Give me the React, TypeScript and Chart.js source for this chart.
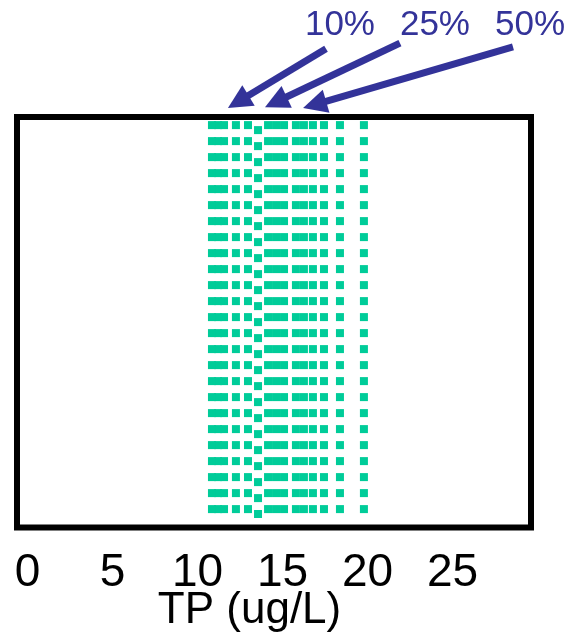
import React, { useEffect, useRef } from "react";
import { Chart, registerables } from "chart.js";

Chart.register(...registerables);

// ---- data ----
const X_TICKS = [0, 5, 10, 15, 20, 25];
const X_TITLE = "TP (ug/L)";
// positions (TP, ug/L) of the dashed vertical lines
const TP_LINES = [10.85, 11.21, 11.56, 12.26, 12.97, 13.56, 14.15, 14.62, 15.09, 15.79, 16.26, 16.79, 17.44, 18.38, 19.79];
const LINE_TOP = 99.0;
const LINE_BOTTOM = 2.3;
// percentile annotations
const ARROW_LABELS = ["10%", "25%", "50%"];
const ARROW_TIP_X = [11.79, 13.97, 16.21];
const ARROW_TIP_Y = [102.2, 102.4, 102.2];
const ARROW_TAIL_X = [17.56, 21.91, 28.56];
const ARROW_TAIL_Y = [116.6, 118.0, 117.1];
const LABEL_X = [18.38, 23.97, 29.56];
const LABEL_Y = 120.0;

// ---- style ----
const GREEN = "#00CC99";
const BLUE = "#333399";
const FONT = "'Liberation Sans', Arial, sans-serif";
const SHIFTED_LINE_INDEX = 5;

const framePlugin = {
  id: "frame",
  afterDatasetsDraw(chart: any) {
    const { ctx, chartArea: a } = chart;
    ctx.save();
    ctx.strokeStyle = "#000";
    ctx.lineWidth = 6;
    ctx.strokeRect(a.left, a.top, a.right - a.left, a.bottom - a.top);
    ctx.restore();
  },
};

const arrowPlugin = {
  id: "arrows",
  afterDraw(chart: any) {
    const { ctx, scales } = chart;
    const xs = scales.x;
    const ys = scales.y;
    ctx.save();
    ctx.fillStyle = BLUE;
    ctx.strokeStyle = BLUE;
    ARROW_LABELS.forEach((lab, i) => {
      const tx = xs.getPixelForValue(ARROW_TIP_X[i]);
      const ty = ys.getPixelForValue(ARROW_TIP_Y[i]);
      const sx = xs.getPixelForValue(ARROW_TAIL_X[i]);
      const sy = ys.getPixelForValue(ARROW_TAIL_Y[i]);
      const dx = tx - sx;
      const dy = ty - sy;
      const len = Math.hypot(dx, dy);
      const ux = dx / len;
      const uy = dy / len;
      const headLen = 24;
      const hw = 12;
      const bx = tx - ux * headLen;
      const by = ty - uy * headLen;
      ctx.lineWidth = 7;
      ctx.lineCap = "butt";
      ctx.beginPath();
      ctx.moveTo(sx, sy);
      ctx.lineTo(bx + ux * 2, by + uy * 2);
      ctx.stroke();
      ctx.beginPath();
      ctx.moveTo(tx, ty);
      ctx.lineTo(bx - uy * hw, by + ux * hw);
      ctx.lineTo(bx + uy * hw, by - ux * hw);
      ctx.closePath();
      ctx.fill();
      ctx.font = `35px ${FONT}`;
      ctx.textAlign = "center";
      ctx.textBaseline = "alphabetic";
      ctx.fillText(lab, xs.getPixelForValue(LABEL_X[i]), ys.getPixelForValue(LABEL_Y));
    });
    ctx.restore();
  },
};

export default function App() {
  const ref = useRef<HTMLCanvasElement | null>(null);

  useEffect(() => {
    if (!ref.current) return;
    const datasets = TP_LINES.map((v, i) => ({
      label: `TP ${v}`,
      data: [
        { x: v, y: LINE_TOP },
        { x: v, y: LINE_BOTTOM },
      ],
      borderColor: GREEN,
      backgroundColor: GREEN,
      borderWidth: 8,
      borderDash: [8, 8],
      borderDashOffset: i === SHIFTED_LINE_INDEX ? 11 : 0,
      pointRadius: 0,
      fill: false,
      tension: 0,
    }));
    const chart = new Chart(ref.current, {
      type: "line",
      data: { datasets },
      options: {
        animation: false,
        responsive: false,
        events: [],
        layout: { padding: { left: 17, right: 44, top: 117, bottom: 0 } },
        plugins: { legend: { display: false }, tooltip: { enabled: false } },
        scales: {
          x: {
            type: "linear",
            min: -0.62,
            max: 29.62,
            afterBuildTicks: (scale: any) => {
              scale.ticks = X_TICKS.map((v) => ({ value: v }));
            },
            afterFit: (scale: any) => {
              scale.paddingLeft = 0;
              scale.paddingRight = 0;
              scale.height = 105.5;
            },
            grid: { display: false, drawTicks: false },
            border: { display: false },
            ticks: {
              color: "#000",
              padding: 29.5,
              maxRotation: 0,
              autoSkip: false,
              font: { family: FONT, size: 46, lineHeight: 32 / 46 },
              callback: (v: any) => String(v),
            },
            title: {
              display: true,
              text: X_TITLE + "    ",
              color: "#000",
              padding: { top: 0, bottom: 0 },
              font: { family: FONT, size: 44, lineHeight: 1 },
            },
          },
          y: {
            type: "linear",
            display: false,
            min: 0,
            max: 100,
          },
        },
      },
      plugins: [framePlugin, arrowPlugin],
    } as any);
    return () => chart.destroy();
  }, []);

  return (
    <div style={{ position: "absolute", left: 0, top: 0, width: 575, height: 633, background: "#fff" }}>
      <canvas ref={ref} width={575} height={633} style={{ width: 575, height: 633, display: "block" }} />
    </div>
  );
}
